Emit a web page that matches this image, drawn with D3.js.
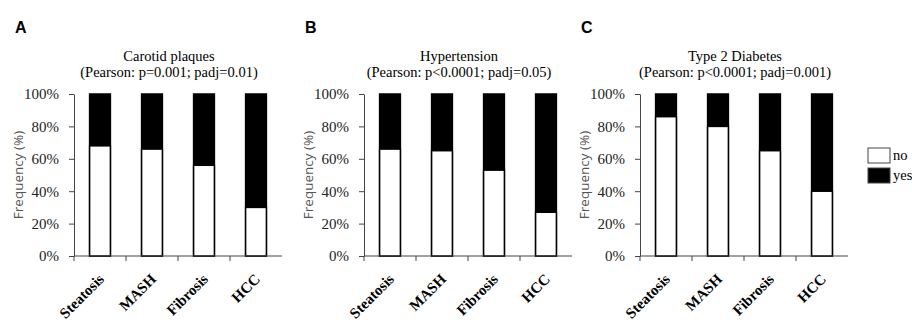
<!DOCTYPE html>
<html>
<head>
<meta charset="utf-8">
<script src="https://cdn.jsdelivr.net/npm/d3@7"></script>
<style>
  body { margin: 0; background: #fff; }
  svg text { font-family: "Liberation Serif", "DejaVu Serif", serif; }
</style>
</head>
<body>
<div class="chart"></div>
<script>
// categories and values (percent "no", the rest is "yes")
var stages = ["Steatosis", "MASH", "Fibrosis", "HCC"];
var panelLetters = ["A", "B", "C"];
var panelTitles = ["Carotid plaques", "Hypertension", "Type 2 Diabetes"];
var panelSubtitles = ["(Pearson: p=0.001; padj=0.01)", "(Pearson: p<0.0001; padj=0.05)", "(Pearson: p<0.0001; padj=0.001)"];
var noCarotid = [68, 66, 56, 30];
var noHypertension = [66, 65, 53, 27];
var noDiabetes = [86, 80, 65, 40];
var yTicks = [0, 20, 40, 60, 80, 100];
var legendLabels = ["no", "yes"];

var svgWidth = 912;
var svgHeight = 320;

var svg = d3.select(".chart")
  .append("svg")
  .attr("width", svgWidth)
  .attr("height", svgHeight);

var panelData = [noCarotid, noHypertension, noDiabetes];
var axisX = [74, 364, 640];
var plotW = 208;
var plotTop = 94, plotBottom = 256;

var y = d3.scaleLinear().domain([0, 100]).range([plotBottom, plotTop]);

panelData.forEach(function(vals, i) {
  var g = svg.append("g");
  var x0 = axisX[i];
  var x = d3.scaleBand().domain(stages).range([x0, x0 + plotW]).paddingInner(0.6).paddingOuter(0.3);

  // panel letter
  g.append("text")
    .attr("x", x0 - 59).attr("y", 33)
    .style("font-family", "'Liberation Sans', Arial, sans-serif")
    .style("font-weight", "bold").style("font-size", "16px")
    .text(panelLetters[i]);

  // title
  g.append("text").attr("x", x0 + 95).attr("y", 61)
    .attr("text-anchor", "middle").style("font-size", "14.5px")
    .text(panelTitles[i]);
  g.append("text").attr("x", x0 + 95).attr("y", 77)
    .attr("text-anchor", "middle").style("font-size", "14.5px")
    .text(panelSubtitles[i]);

  // bars: yes (black) full height, no (white) from 0
  var bars = g.selectAll(".bar").data(stages).enter();
  bars.append("rect")
    .attr("x", function(d) { return x(d); })
    .attr("width", x.bandwidth())
    .attr("y", y(100))
    .attr("height", y(0) - y(100))
    .attr("fill", "#000").attr("stroke", "#000").attr("stroke-width", 1.5);
  bars.append("rect")
    .attr("x", function(d) { return x(d); })
    .attr("width", x.bandwidth())
    .attr("y", function(d, j) { return y(vals[j]); })
    .attr("height", function(d, j) { return y(0) - y(vals[j]); })
    .attr("fill", "#fff").attr("stroke", "#000").attr("stroke-width", 1.5);

  // y axis
  var yAxis = g.append("g")
    .attr("transform", "translate(" + x0 + ",0)")
    .call(d3.axisLeft(y).tickValues(yTicks).tickSize(5).tickSizeOuter(0).tickPadding(10)
      .tickFormat(function(d) { return d + "%"; }));
  yAxis.selectAll("text").style("font-size", "15px").attr("fill", "#222")
    .style("font-family", "'Liberation Serif', serif");
  yAxis.selectAll("line, path").attr("stroke", "#444");

  // x axis, ticks at band starts
  var xl = g.append("g").attr("transform", "translate(0," + plotBottom + ")");
  xl.append("line").attr("x1", x0).attr("x2", x0 + plotW).attr("stroke", "#444");
  xl.selectAll(".tk").data(stages).enter().append("line")
    .attr("x1", function(d, j) { return x0 + j * plotW / stages.length; })
    .attr("x2", function(d, j) { return x0 + j * plotW / stages.length; })
    .attr("y1", 0).attr("y2", 5).attr("stroke", "#444");
  xl.selectAll(".lbl").data(stages).enter().append("text")
    .attr("transform", function(d) {
      return "translate(" + (x(d) + x.bandwidth() / 2 + 5) + ",24) rotate(-45)";
    })
    .attr("text-anchor", "end")
    .style("font-weight", "bold").style("font-size", "15px")
    .text(function(d) { return d; });

  // y label
  g.append("text")
    .attr("transform", "translate(" + (x0 - 51) + "," + ((plotTop + plotBottom) / 2) + ") rotate(-90)")
    .attr("text-anchor", "middle")
    .style("font-family", "'Open Sans', 'Liberation Sans', sans-serif")
    .style("font-size", "13.5px").attr("fill", "#555")
    .text("Frequency (%)");
});

// legend
var legend = svg.append("g").attr("transform", "translate(868,148)");
legendLabels.forEach(function(l, i) {
  legend.append("rect").attr("x", 0).attr("y", i * 20).attr("width", 22).attr("height", 15)
    .attr("fill", i === 0 ? "#fff" : "#000").attr("stroke", "#444").attr("stroke-width", 1);
  legend.append("text").attr("x", 25).attr("y", i * 20 + 12)
    .style("font-size", "14.5px").text(l);
});
</script>
</body>
</html>
